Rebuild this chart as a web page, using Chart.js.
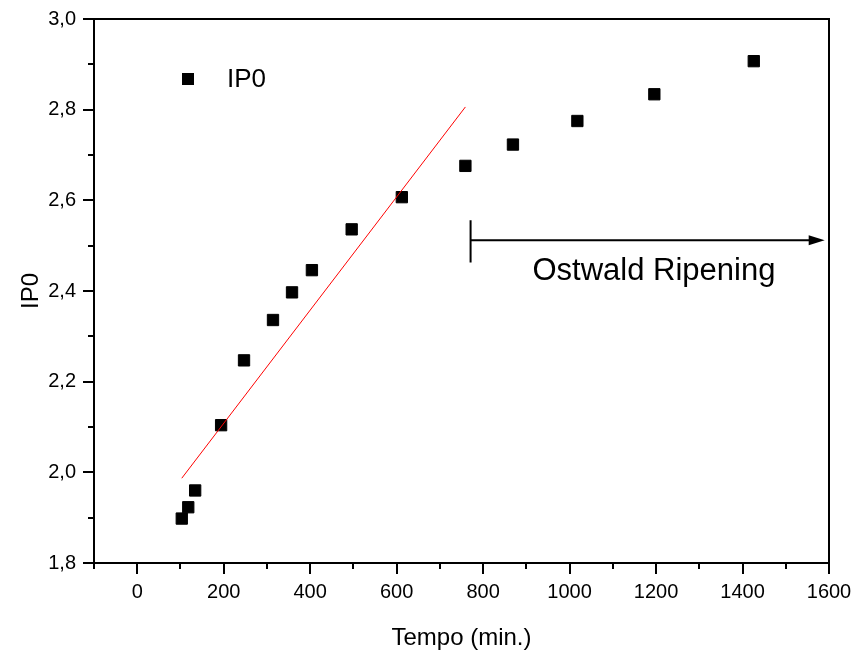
<!DOCTYPE html>
<html>
<head>
<meta charset="utf-8">
<script src="https://cdn.jsdelivr.net/npm/chart.js@4/dist/chart.umd.min.js"></script>
<style>
  html, body { margin: 0; padding: 0; background: #fff; }
  #wrap { width: 858px; height: 663px; position: relative; }
</style>
</head>
<body>
<div id="wrap"><canvas id="canvas"></canvas></div>
<script>
// tempo (min.) e IP0
const tempo = [103, 118, 134, 194, 247, 314, 358, 404, 496, 612, 759, 869, 1018, 1196, 1426];
const ip0 = [1.898, 1.923, 1.960, 2.104, 2.247, 2.336, 2.397, 2.446, 2.536, 2.607, 2.676, 2.723, 2.775, 2.834, 2.907];

// reta de ajuste (vermelha)
const fitX = [103, 759];
const fitY = [1.987, 2.806];

// seta "Ostwald Ripening"
const ripeningStart = 771;
const ripeningEnd = 1590;
const ripeningLevel = 2.512;
const ripeningBar = [2.463, 2.556];
const ripeningText = "Ostwald Ripening";
const ripeningTextPos = [1195, 2.424];

const xMin = -100, xMax = 1600;
const yMin = 1.8, yMax = 3.0;

const FONT = "'Liberation Sans', Arial, sans-serif";

function fmtComma(v) {
    return v.toFixed(1).replace('.', ',');
}

const decor = {
    id: 'decor',
    afterDatasetsDraw(chart) {
        const ctx = chart.ctx;
        const a = chart.chartArea;
        const xs = chart.scales.x;
        const ys = chart.scales.y;
        ctx.save();
        ctx.strokeStyle = '#000';
        ctx.fillStyle = '#000';
        ctx.lineWidth = 2;
        // moldura
        ctx.strokeRect(a.left, a.top, a.right - a.left, a.bottom - a.top);
        // ticks eixo y
        ctx.beginPath();
        ys.ticks.forEach(t => {
            const py = Math.round(ys.getPixelForValue(t.value));
            const major = Math.round(t.value * 10) % 2 === 0;
            ctx.moveTo(a.left, py);
            ctx.lineTo(a.left - (major ? 11 : 6), py);
        });
        // ticks eixo x
        xs.ticks.forEach(t => {
            const px = Math.round(xs.getPixelForValue(t.value));
            const major = Math.round(t.value) % 200 === 0;
            ctx.moveTo(px, a.bottom);
            ctx.lineTo(px, a.bottom + (major ? 11 : 6));
        });
        ctx.stroke();

        // seta
        const x0 = xs.getPixelForValue(ripeningStart);
        const x1 = xs.getPixelForValue(ripeningEnd);
        const yl = ys.getPixelForValue(ripeningLevel);
        ctx.beginPath();
        ctx.moveTo(x0, ys.getPixelForValue(ripeningBar[0]));
        ctx.lineTo(x0, ys.getPixelForValue(ripeningBar[1]));
        ctx.moveTo(x0, yl);
        ctx.lineTo(x1 - 12, yl);
        ctx.stroke();
        ctx.beginPath();
        ctx.moveTo(x1, yl);
        ctx.lineTo(x1 - 16, yl - 5);
        ctx.lineTo(x1 - 16, yl + 5);
        ctx.closePath();
        ctx.fill();

        ctx.font = '31px ' + FONT;
        ctx.textAlign = 'center';
        ctx.textBaseline = 'alphabetic';
        ctx.fillText(ripeningText, xs.getPixelForValue(ripeningTextPos[0]), ys.getPixelForValue(ripeningTextPos[1]));

        // legenda
        const lx = a.left + 94, ly = a.top + 60;
        ctx.fillRect(lx - 6, ly - 6, 12, 12);
        ctx.font = '26px ' + FONT;
        ctx.textAlign = 'left';
        ctx.textBaseline = 'middle';
        ctx.fillText(chart.data.datasets[1].label, lx + 39, ly + 1);
        ctx.restore();
    }
};

let c = document.getElementById("canvas");
let myChart = new Chart(c, {
    type: 'scatter',
    data: {
        datasets: [{
            label: 'ajuste',
            data: fitX.map((x, i) => ({x: x, y: fitY[i]})),
            showLine: true,
            borderColor: '#ff0000',
            borderWidth: 1,
            pointRadius: 0,
            order: 0
        }, {
            label: 'IP0',
            data: tempo.map((x, i) => ({x: x, y: ip0[i]})),
            pointStyle: 'rect',
            pointRadius: 8,
            backgroundColor: '#000',
            borderColor: '#000',
            borderWidth: 1,
            order: 1
        }]
    },
    options: {
        responsive: true,
        maintainAspectRatio: false,
        animation: false,
        events: [],
        layout: { padding: { top: 19, right: 29, left: 0, bottom: 0 } },
        plugins: { legend: { display: false }, tooltip: { enabled: false } },
        scales: {
            x: {
                type: 'linear',
                min: xMin, max: xMax,
                grid: { display: false },
                border: { display: false },
                ticks: {
                    stepSize: 100,
                    autoSkip: false,
                    maxRotation: 0,
                    padding: 9,
                    color: '#000',
                    font: { family: FONT, size: 20 },
                    callback: v => (Math.round(v) % 200 === 0 ? String(v) : '')
                },
                title: {
                    display: true,
                    text: 'Tempo (min.)',
                    color: '#000',
                    font: { family: FONT, size: 24 },
                    padding: { top: 0, bottom: 10 }
                },
                afterFit: s => { s.height = 100; s.paddingLeft = 0; s.paddingRight = 0; }
            },
            y: {
                type: 'linear',
                min: yMin, max: yMax,
                grid: { display: false },
                border: { display: false },
                ticks: {
                    stepSize: 0.1,
                    autoSkip: false,
                    padding: 10,
                    color: '#000',
                    font: { family: FONT, size: 20 },
                    callback: v => (Math.round(v * 10) % 2 === 0 ? fmtComma(v) : '')
                },
                title: {
                    display: true,
                    text: 'IP0',
                    color: '#000',
                    font: { family: FONT, size: 24 },
                    padding: { top: 17, bottom: 0 }
                },
                afterFit: s => { s.width = 94; s.paddingTop = 0; s.paddingBottom = 0; }
            }
        }
    },
    plugins: [decor]
});
</script>
</body>
</html>
